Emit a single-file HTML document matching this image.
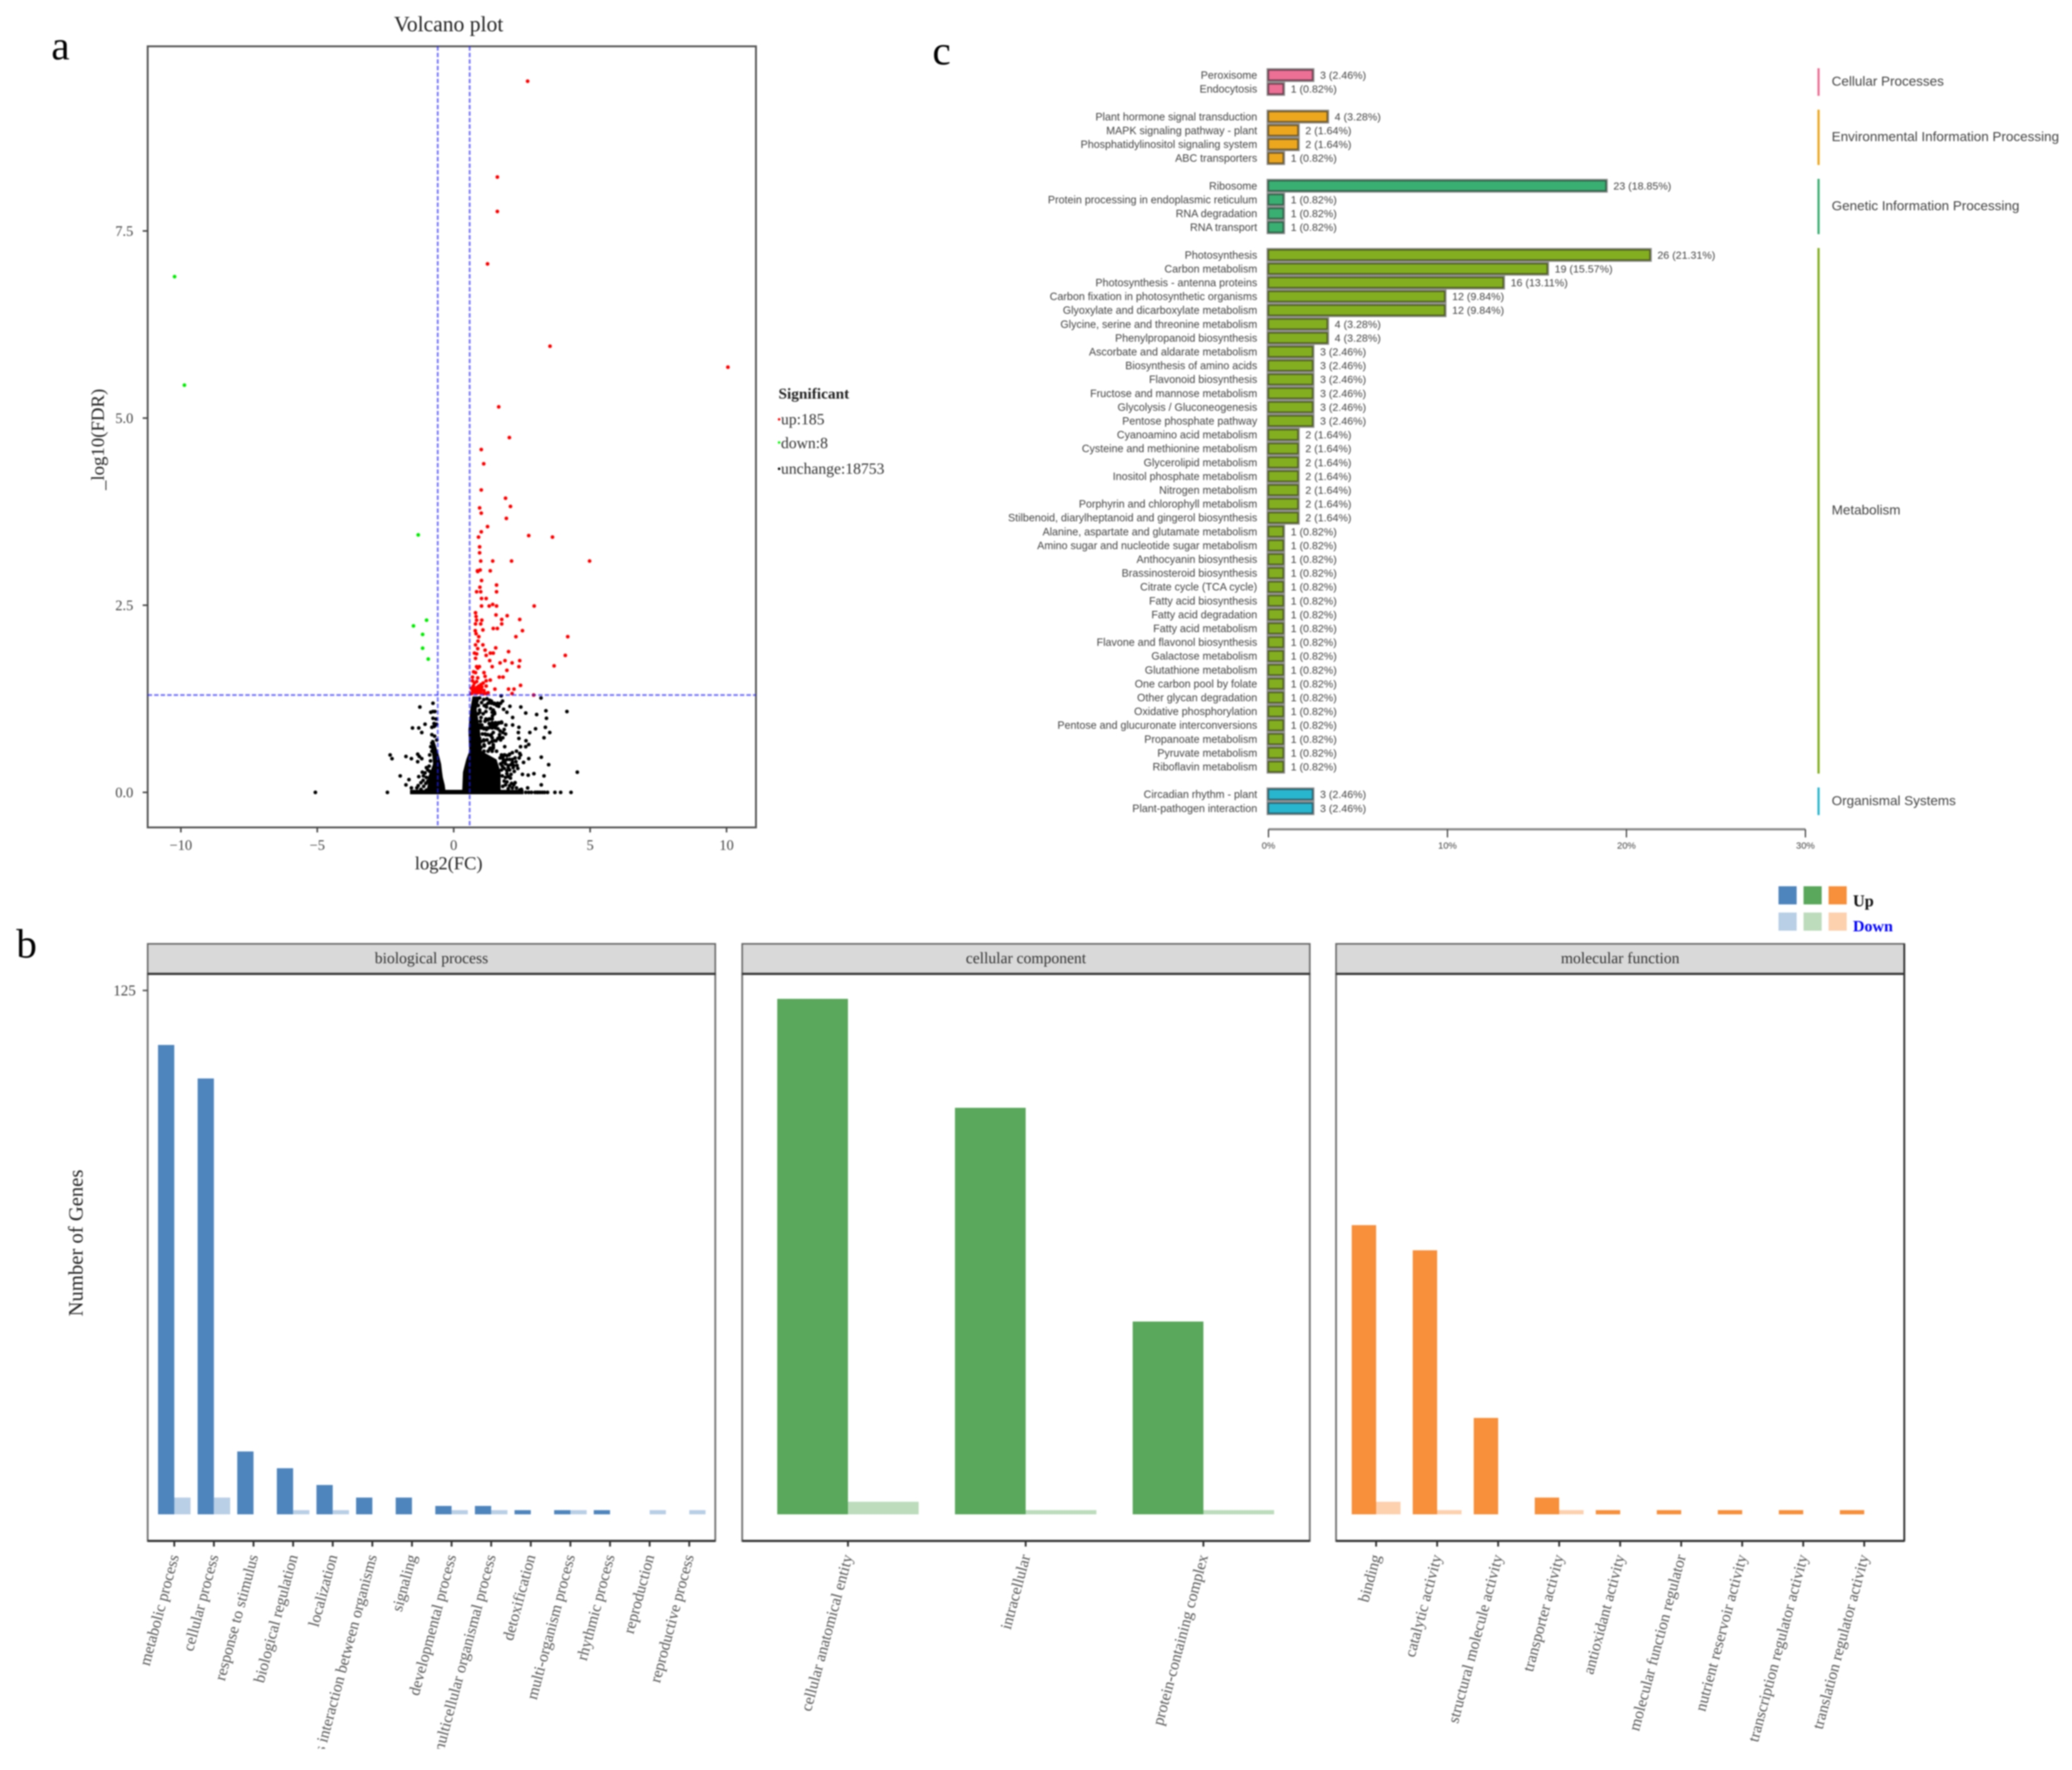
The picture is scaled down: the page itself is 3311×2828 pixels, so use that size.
<!DOCTYPE html>
<html lang="en">
<head>
<meta charset="utf-8">
<title>Volcano plot, GO classification and KEGG classification</title>
<style>
html,body{margin:0;padding:0;background:#fff;}
svg{display:block;filter:blur(1.1px);}
.serif{font-family:"Liberation Serif",serif;}
.sans{font-family:"Liberation Sans",sans-serif;}
</style>
</head>
<body>
<svg id="fig" xmlns="http://www.w3.org/2000/svg" width="3311" height="2828" viewBox="0 0 3311 2828">
  <rect x="0" y="0" width="3311" height="2828" fill="#ffffff"/>
  <defs>
    <clipPath id="label-clip"><rect x="0" y="2400" width="3311" height="394"/></clipPath>
  </defs>

  <text class="serif" x="82" y="95" font-size="66" fill="#000">a</text>
  <text class="serif" x="26" y="1530" font-size="66" fill="#000">b</text>
  <text class="serif" x="1490" y="103" font-size="66" fill="#000">c</text>

  <g id="volcano">
    <text class="serif" x="717" y="50" font-size="34.5" fill="#222" text-anchor="middle">Volcano plot</text>
    <rect x="236" y="74" width="972" height="1248" fill="none" stroke="#555" stroke-width="3"/>
    <text class="serif" x="717" y="1389" font-size="29.5" fill="#222" text-anchor="middle">log2(FC)</text>
    <text class="serif" transform="translate(166,702) rotate(-90)" font-size="30" fill="#222" text-anchor="middle">_log10(FDR)</text>
    <text class="serif" x="1244" y="637" font-size="24.5" font-weight="bold" fill="#222">Significant</text>
    <circle cx="1245" cy="670" r="2" fill="#ff0000"/>
    <text class="serif" x="1248" y="678" font-size="25" fill="#333">up:185</text>
    <circle cx="1245" cy="707" r="2" fill="#00ff00"/>
    <text class="serif" x="1248" y="716" font-size="25" fill="#333">down:8</text>
    <circle cx="1245" cy="749" r="2" fill="#000"/>
    <text class="serif" x="1248" y="757" font-size="25" fill="#333">unchange:18753</text>
  </g>

  <g id="go">
    <text class="serif" transform="translate(132,1986) rotate(-90)" font-size="33" fill="#222" text-anchor="middle">Number of Genes</text>
    <rect x="2842" y="1416" width="29" height="29" fill="#4e85bd"/>
    <rect x="2882" y="1416" width="29" height="29" fill="#5aa85c"/>
    <rect x="2922" y="1416" width="29" height="29" fill="#f78f3b"/>
    <rect x="2842" y="1458" width="29" height="29" fill="#b8cfe6"/>
    <rect x="2882" y="1458" width="29" height="29" fill="#bcdcbc"/>
    <rect x="2922" y="1458" width="29" height="29" fill="#fdd0ae"/>
    <text class="serif" x="2961" y="1448" font-size="26" font-weight="bold" fill="#111">Up</text>
    <text class="serif" x="2961" y="1488" font-size="25.5" font-weight="bold" fill="#0000ff">Down</text>
  </g>

  <g id="kegg"></g>
</svg>

<script>
/* ---------- Volcano data: [log2(FC), -log10(FDR)] ---------- */
const volcanoXTicks = [-10, -5, 0, 5, 10];
const volcanoXTickLabels = ["\u221210", "\u22125", "0", "5", "10"];
const volcanoYTicks = [0, 2.5, 5, 7.5];
const volcanoYTickLabels = ["0.0", "2.5", "5.0", "7.5"];
const fcThresholds = [-0.585, 0.585];
const fdrThreshold = 1.3;

const downPoints = [[-10.23,6.89],[-9.87,5.44],[-1.3,3.44],[-0.994,2.3],[-1.475,2.224],[-1.139,2.11],[-1.139,1.926],[-0.933,1.781]];

const upPoints = [
[2.71,9.5],[1.6,8.22],[1.6,7.76],[1.24,7.06],[3.53,5.96],[10.05,5.68],[1.65,5.15],[2.04,4.74],[1.01,4.58],[1.1,4.39],
[1.01,4.04],[1.9,3.93],[0.95,3.8],[2.08,3.82],[1.01,3.73],[1.93,3.66],[1.24,3.55],[1.01,3.48],[0.91,3.41],[2.75,3.43],
[3.62,3.41],[0.95,3.28],[0.95,3.2],[0.99,3.09],[1.43,3.09],[2.12,3.09],[4.98,3.09],[0.87,2.96],[1.34,2.96],[0.88,2.95],
[0.97,2.97],[1.02,2.83],[1.57,2.77],[0.96,2.74],[0.84,2.68],[0.99,2.68],[1.57,2.68],[1.02,2.59],[1.19,2.59],[1.02,2.49],
[1.3,2.49],[1.43,2.51],[1.57,2.49],[2.95,2.49],[0.8,2.4],[1.55,2.37],[1.96,2.36],[0.82,2.35],[1.76,2.31],[2.42,2.31],
[0.84,2.3],[1.03,2.3],[0.8,2.25],[1.76,2.25],[0.99,2.25],[0.79,2.16],[1.07,2.17],[1.45,2.19],[1.6,2.19],[2.52,2.16],
[0.82,2.12],[2.28,2.08],[4.18,2.08],[0.92,2.08],[0.89,2.02],[0.8,1.97],[1.07,1.97],[0.88,1.92],[1.15,1.9],[1.54,1.93],
[0.76,1.86],[0.84,1.85],[1.19,1.83],[1.34,1.86],[1.45,1.86],[2.01,1.88],[4.09,1.83],[0.8,1.79],[1.32,1.76],[1.7,1.73],
[1.88,1.76],[2.14,1.73],[2.42,1.76],[2.39,1.68],[1.41,1.68],[3.68,1.69],[0.84,1.68],[0.94,1.68],[0.88,1.66],[1.95,1.63],
[0.73,1.61],[1.11,1.6],[0.8,1.6],[1.15,1.55],[0.69,1.54],[0.88,1.53],[1.67,1.54],[1.81,1.54],[1.34,1.5],[1.19,1.49],
[0.69,1.49],[0.84,1.48],[0.76,1.46],[2.45,1.43],[1.19,1.42],[0.96,1.4],[0.65,1.39],[1.51,1.38],[2.01,1.38],[2.21,1.38],
[1.11,1.36],[0.8,1.36],[0.88,1.37],[1.03,1.37],[0.96,1.35],[0.73,1.34],[1.26,1.33],[2.14,1.32],[2.93,1.3],[0.65,1.32],
[0.8,1.33],[0.88,1.33],[0.99,1.33],[1.11,1.32],[1.19,1.32],[0.92,1.42],[1.0,1.44],[0.72,1.42],[1.08,1.46],[0.92,1.36],
[0.85,1.4],[1.03,1.41],[0.7,1.36],[0.76,1.38]
];

const unchangedPoints = [
[-5.07,0],[-2.43,0],[-0.76,1.19],[-1.24,1.14],[-0.84,1.07],[-0.76,1.08],[-0.69,1.08],[-0.76,0.99],[-1.05,0.91],[-0.63,0.91],
[-0.69,0.89],[-0.8,0.87],[-1.51,0.86],[-1.28,0.86],[-1.17,0.8],[-0.8,0.77],[-0.8,0.66],[-0.84,0.61],[-0.76,0.58],[-0.69,0.55],
[-2.33,0.5],[-2.26,0.45],[-1.75,0.48],[-1.55,0.45],[-1.32,0.51],[-1.26,0.48],[-1.17,0.45],[-1.32,0.41],[-1.96,0.22],[-1.64,0.17],
[-1.75,0.1],[-1.28,0.21],[-1.15,0.27],[-1.11,0.22],[-1.2,0.13],[-1.55,0.06],[-1.35,0.06],[-1.05,0.26],[-1.0,0.2],[-0.95,0.15],
[-1.1,0.08],[-0.9,0.05],[-1.2,0.04],[-1.0,0.03],[-0.72,0.62],[-0.8,0.55],[-0.88,0.5],[-0.85,0.42],[-0.9,0.35],[-0.95,0.3],
[-1.0,0.33],[-0.88,0.28],[-0.7,0.75],[-0.72,0.88],[-0.62,0.7],[-0.65,0.98],[-0.72,0.92],[-1.02,0.12],[-1.12,0.16],[-1.3,0.09],
[4.53,0.27],[4.15,1.08],[3.2,1.26],[3.38,1.09],[3.04,1.04],[3.4,0.99],[2.64,1.06],[2.46,1.14],[2.06,1.15],[1.95,1.07],
[1.83,1.11],[2.16,1.0],[1.79,1.22],[1.74,1.29],[3.36,0.87],[3.0,0.85],[3.52,0.8],[2.79,0.8],[3.31,0.73],[2.39,0.87],
[2.16,0.9],[1.91,0.9],[2.37,0.8],[2.39,0.72],[2.65,0.69],[2.75,0.64],[2.64,0.61],[2.45,0.61],[1.87,0.61],[1.45,0.61],
[3.21,0.47],[2.75,0.45],[3.48,0.37],[2.56,0.4],[2.52,0.24],[2.73,0.23],[2.94,0.25],[3.31,0.22],[3.21,0.1],[2.71,0.06],
[2.25,0.13],[2.48,0.04],[2.64,0],[2.75,0],[2.85,0],[2.98,0],[3.05,0],[3.1,0],[3.17,0],[3.25,0],[3.33,0],[3.44,0],[3.71,0],[3.92,0],[4.3,0],
[0.95,1.26],[1.02,1.2],[1.1,1.24],[1.22,1.25],[1.32,1.23],[1.4,1.2],[1.48,1.18],[1.58,1.16],[1.65,1.15],[1.2,1.14],
[1.12,1.16],[0.82,1.16],[0.72,1.15],[0.9,1.16],[1.45,1.1],[1.5,1.05],[1.42,1.02],[1.33,0.98],[1.25,0.97],[1.15,0.95],
[1.3,0.92],[1.55,0.9],[1.62,0.92],[1.7,0.93],[1.75,0.94],[1.5,0.89],[1.42,0.88],[1.35,0.87],[1.28,0.86],[1.2,0.84],
[1.1,0.85],[1.0,0.86],[0.95,0.9],[1.0,1.0],[0.9,1.05],[0.95,1.1],[1.05,0.78],[1.15,0.78],[1.25,0.77],[1.35,0.76],
[1.45,0.8],[1.62,0.85],[1.7,0.82],[1.85,0.84],[1.9,0.78],[1.8,0.8],[1.68,0.74],[1.72,0.7],[1.62,0.72],[1.55,0.69],
[1.3,0.66],[1.1,0.7],[1.0,0.68],[0.95,0.72],[1.12,0.62],[1.0,0.6],[1.32,0.58],[0.9,0.8],[0.98,0.95],[1.08,1.05],
[1.18,1.08],[1.35,1.12],[0.85,0.95],[0.88,0.85],[1.22,0.7],[1.4,0.68],
[1.26,1.19],[1.38,1.19],[1.49,1.19],[1.61,1.19],[1.72,1.19],[1.38,1.22],[1.18,1.165],[1.41,1.07],[1.49,1.07],[0.955,1.07],
[1.18,0.98],[1.3,0.98],[1.41,0.98],[1.41,0.93],[1.53,0.93],[1.64,0.93],[1.76,0.93],[1.34,0.9],[1.45,0.9],[1.57,0.9],
[0.88,0.9],[1.03,0.9],[1.41,0.86],[1.53,0.86],[1.11,0.86],[1.22,0.86],[1.18,0.77],[1.38,0.77],[1.68,0.77],[1.8,0.73],
[1.41,0.73],[1.49,0.69],[1.11,0.69],[1.11,0.635],[1.45,0.635],[1.45,0.59],[1.34,0.59],[1.11,0.55],[1.26,0.55],[1.41,0.55],
[1.57,0.55],[1.87,0.5],[2.03,0.5],[1.8,0.47],[1.88,0.42],[2.15,0.4],[2.0,0.33],[1.78,0.35],[2.1,0.24],[1.95,0.25],
[2.18,0.33],[2.28,0.41],[1.9,0.1],[2.05,0.09],[2.2,0.1],
[1.75,0.5],[1.85,0.5],[1.95,0.49],[2.05,0.51],[2.15,0.53],[2.3,0.55],[2.42,0.52],[1.7,0.46],[1.82,0.44],[1.95,0.44],
[2.05,0.44],[2.15,0.44],[2.25,0.46],[2.4,0.46],[2.45,0.5],[1.72,0.38],[1.8,0.4],[1.9,0.38],[2.0,0.36],[2.1,0.37],
[2.2,0.36],[2.32,0.36],[2.35,0.32],[1.75,0.3],[1.85,0.32],[1.95,0.29],[2.05,0.3],[2.22,0.28],[1.78,0.22],[1.9,0.2],
[2.0,0.21],[2.08,0.19],[1.85,0.15],[1.95,0.14],[2.12,0.12],[1.8,0.08],[2.0,0.05],[2.15,0.06],[2.3,0.06],[2.42,0.03]
];

/* Saturated zones where unchanged genes merge into a solid mass: envelope read per FDR level */
const denseRightFdr = [0, 0.27, 0.44, 0.55, 0.83, 1.11, 1.28];
const denseRightMin = [0.31, 0.34, 0.46, 0.57, 0.54, 0.61, 0.69];
const denseRightMax = [1.72, 1.72, 1.57, 1.03, 0.96, 0.84, 0.96];
const denseLeftFdr = [0.02, 0.1, 0.2, 0.28, 0.38, 0.48, 0.58, 0.7];
const denseLeftMin = [-1.0, -0.95, -0.95, -0.85, -0.76, -0.78, -0.82, -0.82];
const denseLeftMax = [-0.3, -0.33, -0.4, -0.43, -0.46, -0.53, -0.62, -0.72];
const zeroBandFc = [-1.6, 2.56];

/* ---------- GO data ---------- */
const goAxisTicks = [125];
const bpCategories = ["metabolic process","cellular process","response to stimulus","biological regulation","localization","interspecies interaction between organisms","signaling","developmental process","multicellular organismal process","detoxification","multi-organism process","rhythmic process","reproduction","reproductive process"];
const bpUp = [112,104,15,11,7,4,4,2,2,1,1,1,0,0];
const bpDown = [4,4,0,1,1,0,0,1,1,0,1,0,1,1];
const ccCategories = ["cellular anatomical entity","intracellular","protein-containing complex"];
const ccUp = [123,97,46];
const ccDown = [3,1,1];
const mfCategories = ["binding","catalytic activity","structural molecule activity","transporter activity","antioxidant activity","molecular function regulator","nutrient reservoir activity","transcription regulator activity","translation regulator activity"];
const mfUp = [69,63,23,4,1,1,1,1,1];
const mfDown = [3,1,0,1,0,0,0,0,0];

/* ---------- KEGG data ---------- */
const keggGroupNames = ["Cellular Processes","Environmental Information Processing","Genetic Information Processing","Metabolism","Organismal Systems"];
const keggGroupSizes = [2,4,4,38,2];
const keggPathways = ["Peroxisome","Endocytosis","Plant hormone signal transduction","MAPK signaling pathway - plant","Phosphatidylinositol signaling system","ABC transporters","Ribosome","Protein processing in endoplasmic reticulum","RNA degradation","RNA transport","Photosynthesis","Carbon metabolism","Photosynthesis - antenna proteins","Carbon fixation in photosynthetic organisms","Glyoxylate and dicarboxylate metabolism","Glycine, serine and threonine metabolism","Phenylpropanoid biosynthesis","Ascorbate and aldarate metabolism","Biosynthesis of amino acids","Flavonoid biosynthesis","Fructose and mannose metabolism","Glycolysis / Gluconeogenesis","Pentose phosphate pathway","Cyanoamino acid metabolism","Cysteine and methionine metabolism","Glycerolipid metabolism","Inositol phosphate metabolism","Nitrogen metabolism","Porphyrin and chlorophyll metabolism","Stilbenoid, diarylheptanoid and gingerol biosynthesis","Alanine, aspartate and glutamate metabolism","Amino sugar and nucleotide sugar metabolism","Anthocyanin biosynthesis","Brassinosteroid biosynthesis","Citrate cycle (TCA cycle)","Fatty acid biosynthesis","Fatty acid degradation","Fatty acid metabolism","Flavone and flavonol biosynthesis","Galactose metabolism","Glutathione metabolism","One carbon pool by folate","Other glycan degradation","Oxidative phosphorylation","Pentose and glucuronate interconversions","Propanoate metabolism","Pyruvate metabolism","Riboflavin metabolism","Circadian rhythm - plant","Plant-pathogen interaction"];
const keggCounts = [3,1,4,2,2,1,23,1,1,1,26,19,16,12,12,4,4,3,3,3,3,3,3,2,2,2,2,2,2,2,1,1,1,1,1,1,1,1,1,1,1,1,1,1,1,1,1,1,3,3];
const keggPercents = [2.46,0.82,3.28,1.64,1.64,0.82,18.85,0.82,0.82,0.82,21.31,15.57,13.11,9.84,9.84,3.28,3.28,2.46,2.46,2.46,2.46,2.46,2.46,1.64,1.64,1.64,1.64,1.64,1.64,1.64,0.82,0.82,0.82,0.82,0.82,0.82,0.82,0.82,0.82,0.82,0.82,0.82,0.82,0.82,0.82,0.82,0.82,0.82,2.46,2.46];
const keggAxisTicks = [0,10,20,30];

/* ---------- Drawing ---------- */
const NS = "http://www.w3.org/2000/svg";
const volcanoG = document.getElementById("volcano");
const goG = document.getElementById("go");
const keggG = document.getElementById("kegg");

function make(tag, parent, attrs, txt) {
  const el = document.createElementNS(NS, tag);
  for (const k in attrs) el.setAttribute(k, attrs[k]);
  if (txt !== undefined) el.textContent = txt;
  parent.appendChild(el);
  return el;
}

/* Volcano scales */
const vx = v => 725 + 43.6 * v;
const vy = v => 1266 - 119.6 * v;
const PLOT = {l:236, r:1208, t:74, b:1322};

volcanoXTicks.forEach((t, i) => {
  const tick = make("line", volcanoG, {x1:vx(t), x2:vx(t), y1:PLOT.b, y2:PLOT.b+8, stroke:"#444", "stroke-width":2.5});
  
  
  const lab = make("text", volcanoG, {x:vx(t), y:PLOT.b+36, "font-size":23, fill:"#444", "text-anchor":"middle", class:"serif"}, volcanoXTickLabels[i]);
  
  
});
volcanoYTicks.forEach((t, i) => {
  const tick = make("line", volcanoG, {x1:PLOT.l-8, x2:PLOT.l, y1:vy(t), y2:vy(t), stroke:"#444", "stroke-width":2.5});
  
  
  const lab = make("text", volcanoG, {x:PLOT.l-23, y:vy(t)+8, "font-size":23, fill:"#444", "text-anchor":"end", class:"serif"}, volcanoYTickLabels[i]);
  
  
});

function envelopePath(levels, mins, maxs) {
  let d = "";
  levels.forEach((f, i) => { d += (i ? "L" : "M") + vx(mins[i]).toFixed(1) + " " + vy(f).toFixed(1); });
  for (let i = levels.length - 1; i >= 0; i--) d += "L" + vx(maxs[i]).toFixed(1) + " " + vy(levels[i]).toFixed(1);
  return d + "Z";
}
const denseR = make("path", volcanoG, {d:envelopePath(denseRightFdr, denseRightMin, denseRightMax), fill:"#000"});


const denseL = make("path", volcanoG, {d:envelopePath(denseLeftFdr, denseLeftMin, denseLeftMax), fill:"#000"});


const band = make("rect", volcanoG, {x:vx(zeroBandFc[0]), y:vy(0)-4, width:vx(zeroBandFc[1])-vx(zeroBandFc[0]), height:7, fill:"#000"});



unchangedPoints.forEach(p => {
  const c = make("circle", volcanoG, {cx:vx(p[0]), cy:vy(p[1]), r:3, fill:"#000"});
  
  
});
upPoints.forEach(p => {
  const c = make("circle", volcanoG, {cx:vx(p[0]), cy:vy(p[1]), r:3, fill:"#ff0000"});
  
  
});
downPoints.forEach(p => {
  const c = make("circle", volcanoG, {cx:vx(p[0]), cy:vy(p[1]), r:3, fill:"#00ee00"});
  
  
});
fcThresholds.forEach(t => {
  const l = make("line", volcanoG, {x1:vx(t), x2:vx(t), y1:PLOT.t, y2:PLOT.b, stroke:"#2020ff", "stroke-opacity":0.6, "stroke-width":3, "stroke-dasharray":"7 3.4"});
  
  
});
const hl = make("line", volcanoG, {x1:PLOT.l, x2:PLOT.r, y1:vy(fdrThreshold), y2:vy(fdrThreshold), stroke:"#2020ff", "stroke-opacity":0.6, "stroke-width":3, "stroke-dasharray":"7 3.4"});



/* GO scales */
const gy = v => 2419.5 - 6.696 * v;
const STRIP = {top:1508, mid:1556, bottom:2462};
const goClip = make("g", goG, {"clip-path":"url(#label-clip)"});



function drawFacet(name, left, right, firstTick, step, barW, cats, ups, downs, upColor, downColor) {
  const panel = make("rect", goG, {x:left, y:STRIP.mid, width:right-left, height:STRIP.bottom-STRIP.mid, fill:"#fff", stroke:"#777", "stroke-width":3});
  
  
  const strip = make("rect", goG, {x:left, y:STRIP.top, width:right-left, height:STRIP.mid-STRIP.top, fill:"#d9d9d9", stroke:"#666", "stroke-width":2.5});
  
  
  const rule = make("line", goG, {x1:left, x2:right, y1:STRIP.mid, y2:STRIP.mid, stroke:"#333", "stroke-width":3.5});
  
  
  const stripText = make("text", goG, {x:(left+right)/2, y:STRIP.top+31, "font-size":25, fill:"#333", "text-anchor":"middle", class:"serif"}, name);
  
  
  cats.forEach((c, i) => {
    const tx = firstTick + i * step;
    if (ups[i] > 0) {
      const b = make("rect", goG, {x:tx-barW, y:gy(ups[i]), width:barW, height:gy(0)-gy(ups[i]), fill:upColor});
      
      
    }
    if (downs[i] > 0) {
      const b = make("rect", goG, {x:tx, y:gy(downs[i]), width:barW, height:gy(0)-gy(downs[i]), fill:downColor});
      
      
    }
    const tick = make("line", goG, {x1:tx, x2:tx, y1:STRIP.bottom, y2:STRIP.bottom+9, stroke:"#333", "stroke-width":3});
    
    
    const lab = make("text", goClip, {transform:"translate("+(tx-1)+",2484) rotate(-75)", "font-size":25.4, fill:"#555", "text-anchor":"end", dy:"0.35em", class:"serif"}, c);
    
    
  });
  const base = make("line", goG, {x1:left, x2:right, y1:STRIP.bottom, y2:STRIP.bottom, stroke:"#333", "stroke-width":3.5});
  
  
}
drawFacet("biological process", 236, 1143, 278.5, 63.3, 26, bpCategories, bpUp, bpDown, "#4e85bd", "#b8cfe6");
drawFacet("cellular component", 1186, 2093, 1355, 284, 113, ccCategories, ccUp, ccDown, "#5aa85c", "#bcdcbc");
drawFacet("molecular function", 2135, 3043, 2199, 97.5, 39, mfCategories, mfUp, mfDown, "#f78f3b", "#fdd0ae");
const mfRight = make("line", goG, {x1:3043, x2:3043, y1:STRIP.top, y2:STRIP.bottom, stroke:"#333", "stroke-width":3});



goAxisTicks.forEach(t => {
  const tick = make("line", goG, {x1:228, x2:236, y1:gy(t), y2:gy(t), stroke:"#555", "stroke-width":2.5});
  
  
  const lab = make("text", goG, {x:217, y:gy(t)+8, "font-size":24, fill:"#444", "text-anchor":"end", class:"serif"}, String(t));
  
  
});

/* KEGG scales */
const kx = v => 2027 + 28.6 * v;
const ROW = 22.1, GAP = 44.2, BARH = 16;
const keggFills = ["#ec6f95","#eda71e","#3aaf72","#82ae1f","#28b6cf"];
const keggStrokes = ["#6d3a4c","#6d5520","#2a5f45","#4d5c1c","#245f6c"];
let rowY = 120, rowIndex = 0;
keggGroupNames.forEach((g, gi) => {
  const firstY = rowY;
  for (let n = 0; n < keggGroupSizes[gi]; n++) {
    const i = rowIndex;
    const lab = make("text", keggG, {x:2009, y:rowY+6, "font-size":17.1, fill:"#444", "text-anchor":"end", class:"sans"}, keggPathways[i]);
    
    
    const halo = make("rect", keggG, {x:kx(0)-3, y:rowY-11, width:kx(keggPercents[i])-kx(0)+6, height:22, fill:"#8a8a8a"});
    
    
    const b = make("rect", keggG, {x:kx(0), y:rowY-BARH/2, width:kx(keggPercents[i])-kx(0), height:BARH, fill:keggFills[gi], stroke:keggStrokes[gi], "stroke-width":2});
    
    
    const val = make("text", keggG, {x:kx(keggPercents[i])+12, y:rowY+6, "font-size":17, fill:"#444", class:"sans"}, keggCounts[i] + " (" + keggPercents[i].toFixed(2) + "%)");
    
    
    rowIndex++;
    if (n < keggGroupSizes[gi] - 1) rowY += ROW;
  }
  const lastY = rowY;
  const bar = make("line", keggG, {x1:2906, x2:2906, y1:firstY-11, y2:lastY+11, stroke:keggFills[gi], "stroke-width":3.5});
  
  
  const gl = make("text", keggG, {x:2927, y:(firstY+lastY)/2+6, "font-size":21.5, fill:"#444", class:"sans"}, g);
  
  
  rowY += GAP;
});
const kAxis = make("line", keggG, {x1:kx(0), x2:kx(30), y1:1325, y2:1325, stroke:"#888", "stroke-width":3.5});


keggAxisTicks.forEach(t => {
  const tick = make("line", keggG, {x1:kx(t), x2:kx(t), y1:1325, y2:1338, stroke:"#444", "stroke-width":2});
  
  
  const lab = make("text", keggG, {x:kx(t), y:1356, "font-size":15, fill:"#444", "text-anchor":"middle", class:"sans"}, t + "%");
  
  
});
</script>
</body>
</html>
